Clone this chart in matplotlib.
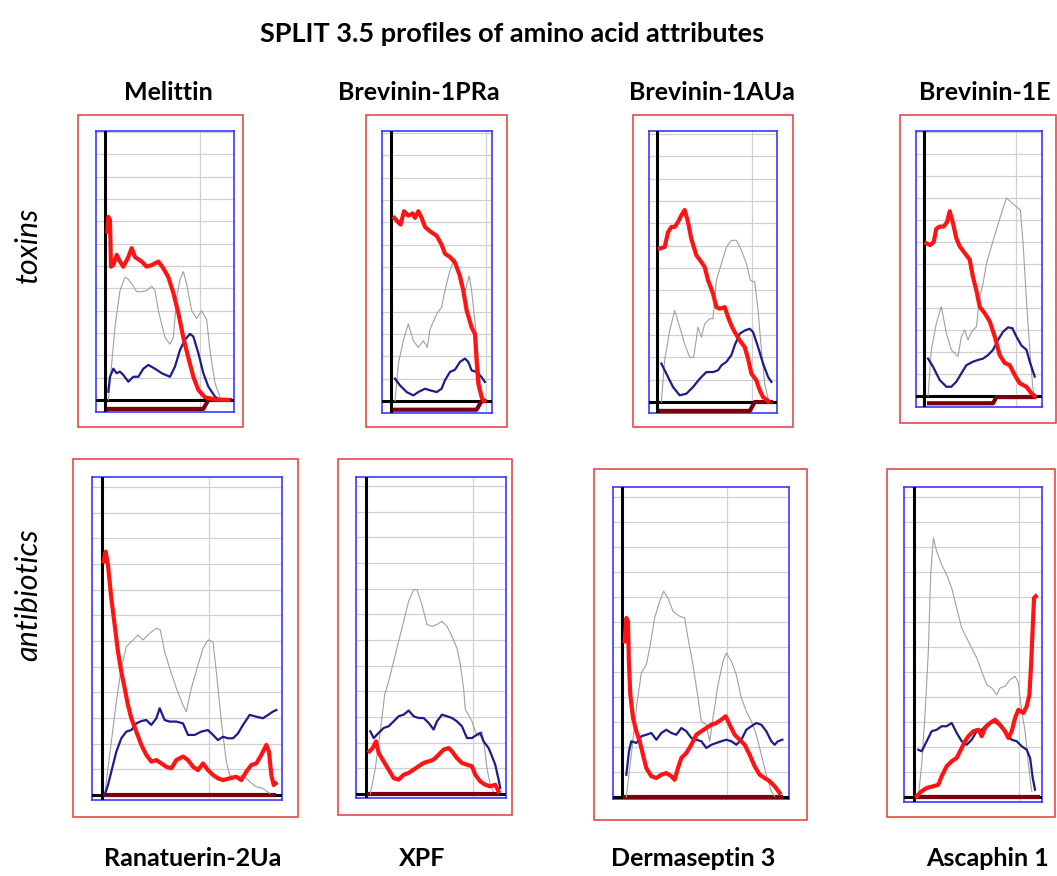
import matplotlib
matplotlib.use("Agg")
import matplotlib.pyplot as plt
from matplotlib.patches import Rectangle

# === DATA (x in residue units, y in grid units; 0 = black baseline) ===
# --- Melittin ---
MEL_RED_X = [0.49, 0.70, 1.05, 1.26, 1.75, 2.46, 3.16, 3.86, 4.91, 5.61, 6.32, 7.72, 8.77, 9.82, 11.23, 12.28,
             13.33, 14.39, 15.44, 16.49, 17.54, 18.60, 19.65, 21.05, 23.16, 25.96]
MEL_RED_Y = [7.54, 8.2, 8.06, 5.97, 6.04, 6.5, 6.2, 5.97, 6.4, 6.8, 6.4, 6.2, 5.97, 6.04, 6.2, 5.9,
             5.5, 4.8, 3.9, 2.8, 1.9, 1.04, 0.45, 0.12, 0.03, 0.0]
MEL_GREY_X = [0.70, 1.40, 2.11, 3.16, 4.21, 4.91, 5.96, 6.67, 7.72, 8.77, 9.82, 10.53, 11.23, 11.93, 12.63, 13.68,
              14.39, 15.09, 15.79, 16.49, 17.19, 18.25, 19.30, 20.35, 21.40, 22.11, 23.16, 24.21]
MEL_GREY_Y = [0, 1.6, 3.3, 4.9, 5.5, 5.4, 5.1, 4.85, 4.85, 4.9, 5.1, 4.9, 4.0, 3.4, 2.8, 2.5,
              2.8, 4.6, 5.4, 5.75, 5.2, 4.0, 3.65, 4.0, 3.6, 2.2, 0.75, 0.15]
MEL_NAVY_X = [0.70, 1.05, 1.75, 2.46, 3.16, 3.86, 4.91, 5.96, 7.02, 8.07, 9.12, 10.53, 11.93, 13.68, 14.74, 15.79,
              16.84, 17.89, 18.60, 19.65, 20.70, 21.75, 23.16, 23.86]
MEL_NAVY_Y = [0.37, 1.04, 1.4, 1.2, 1.27, 1.12, 0.82, 1.04, 1.04, 1.4, 1.57, 1.4, 1.2, 1.04, 1.5, 2.24,
              2.7, 2.96, 2.84, 2.1, 1.2, 0.6, 0.15, 0.06]
MEL_BAR_X = [0.3, 20.7, 21.75, 26.7]
MEL_BAR_Y = [-0.4, -0.4, 0, 0]

# --- Brevinin-1PRa ---
PRA_RED_X = [0.70, 1.55, 2.04, 2.75, 3.66, 4.58, 5.07, 5.77, 6.48, 7.18, 8.24, 9.65, 10.70, 11.41, 12.46, 13.52,
             14.58, 15.28, 15.99, 17.04, 17.75, 18.10, 18.45, 19.15, 19.65]
PRA_RED_Y = [8.2, 8.0, 7.9, 8.5, 8.3, 8.4, 8.2, 8.5, 8.2, 7.8, 7.6, 7.4, 7.0, 6.6, 6.45, 6.2,
             5.6, 4.95, 4.06, 3.3, 3.0, 1.8, 0.78, 0.18, 0.0]
PRA_GREY_X = [0.85, 1.55, 2.61, 3.66, 4.72, 5.77, 6.83, 7.68, 8.24, 9.65, 10.70, 11.41, 12.46, 13.52, 14.58, 15.63,
              16.55, 17.04, 18.10, 18.80, 19.37]
PRA_GREY_Y = [0, 1.67, 2.7, 3.46, 2.7, 2.4, 2.7, 2.4, 3.2, 3.9, 4.2, 4.95, 5.85, 6.4, 5.25, 4.9,
              5.6, 4.95, 2.87, 1.07, 0.18]
PRA_NAVY_X = [0.85, 1.90, 3.31, 4.72, 5.77, 7.18, 8.24, 9.65, 10.70, 11.41, 12.46, 13.52, 14.58, 15.63, 16.34, 17.04,
              18.10, 19.15, 19.86]
PRA_NAVY_Y = [1.0, 0.7, 0.4, 0.25, 0.4, 0.55, 0.48, 0.4, 0.55, 0.93, 1.3, 1.4, 1.75, 1.9, 1.75, 1.37,
              1.3, 1.07, 0.85]
PRA_BAR_X = [0.35, 18.1, 19.15, 20.2]
PRA_BAR_Y = [-0.39, -0.39, 0, 0]

# --- Brevinin-1AUa ---
AUA_RED_X = [0.56, 1.61, 2.31, 3.01, 3.71, 4.41, 5.10, 5.80, 6.50, 7.20, 8.25, 9.30, 10.0, 10.70, 11.75, 12.45,
             13.15, 14.20, 14.90, 15.59, 16.29, 17.34, 18.39, 19.09, 19.79, 20.84, 21.54, 22.24, 23.29]
AUA_RED_Y = [6.87, 6.94, 7.6, 7.84, 7.84, 8.06, 8.36, 8.6, 8.06, 7.3, 6.57, 6.27, 6.04, 5.45, 4.85, 4.25,
             4.18, 4.25, 3.8, 3.43, 3.13, 2.76, 2.46, 1.94, 1.27, 0.97, 0.52, 0.22, 0.04]
AUA_GREY_X = [0.91, 1.61, 2.66, 3.71, 4.76, 5.80, 6.85, 7.69, 8.60, 9.30, 10.0, 11.05, 11.75, 12.45, 13.50, 14.55,
              15.59, 16.64, 17.69, 18.74, 19.58, 20.49, 21.19, 21.89, 22.59, 23.29]
AUA_GREY_Y = [0, 1.87, 3.2, 4.1, 3.36, 2.6, 2.0, 2.0, 3.36, 2.9, 3.5, 3.73, 3.73, 5.45, 6.2, 6.94,
              7.24, 7.24, 6.8, 6.2, 5.45, 5.37, 4.1, 2.3, 0.82, 0.15]
AUA_NAVY_X = [0.91, 1.96, 3.36, 4.76, 6.15, 7.55, 8.95, 10.35, 11.75, 12.80, 13.50, 14.55, 15.59, 16.29, 17.34, 18.39,
              19.44, 20.14, 21.19, 22.24, 23.29, 23.99]
AUA_NAVY_Y = [1.72, 1.27, 0.67, 0.3, 0.37, 0.67, 1.04, 1.34, 1.34, 1.42, 1.64, 1.8, 2.1, 2.54, 3.06, 3.2,
              3.28, 3.13, 2.46, 1.72, 1.12, 0.9]
AUA_BAR_X = [0.42, 19.44, 20.49, 24.34]
AUA_BAR_Y = [-0.4, -0.4, 0, 0]

# --- Brevinin-1E ---
B1E_RED_X = [0.51, 1.37, 2.09, 2.67, 3.39, 4.26, 4.98, 5.56, 6.28, 7.0, 7.73, 8.81, 9.89, 10.61, 11.34, 12.06,
             13.14, 14.22, 15.31, 16.39, 17.47, 18.56, 19.64, 20.72, 22.17, 23.25, 23.97]
B1E_RED_Y = [6.94, 6.86, 7.0, 7.6, 7.7, 7.7, 7.9, 8.4, 7.85, 7.17, 6.8, 6.5, 6.2, 5.4, 4.8, 4.06,
             3.76, 3.4, 2.7, 1.86, 1.5, 1.4, 0.95, 0.58, 0.42, 0.12, 0.0]
B1E_GREY_X = [0.87, 1.59, 2.67, 3.75, 4.84, 5.92, 7.36, 8.09, 8.81, 9.53, 10.25, 11.34, 12.06, 12.78, 13.50, 14.58,
              15.67, 16.75, 17.83, 18.92, 20.0, 20.87, 21.44, 22.17, 22.89, 23.47, 23.75]
B1E_GREY_Y = [0, 2.1, 3.3, 4.06, 2.85, 2.1, 1.8, 2.7, 3.0, 2.55, 2.9, 3.15, 4.5, 5.1, 6.0, 6.8,
              7.55, 8.3, 9.0, 8.8, 8.6, 8.45, 6.94, 4.36, 2.1, 0.58, 0.05]
B1E_NAVY_X = [0.87, 1.95, 3.39, 4.84, 5.92, 7.0, 8.09, 9.17, 10.61, 11.70, 12.78, 13.86, 14.95, 16.03, 17.11, 18.19,
              19.13, 20.0, 21.08, 22.17, 22.89, 23.97]
B1E_NAVY_Y = [1.7, 1.33, 0.73, 0.42, 0.42, 0.65, 1.03, 1.4, 1.56, 1.64, 1.7, 1.86, 2.1, 2.55, 2.92, 3.12,
              3.08, 2.7, 2.3, 2.1, 1.56, 0.88]
B1E_BAR_X = [0.65, 14.95, 15.67, 24.33]
B1E_BAR_Y = [-0.33, -0.33, -0.05, -0.05]

# --- Ranatuerin-2Ua ---
RAN_RED_X = [0.31, 0.69, 1.12, 1.74, 2.37, 2.99, 3.61, 4.24, 4.86, 5.48, 6.42, 7.35, 8.29, 9.22, 10.16, 11.09,
             12.02, 12.96, 13.89, 15.14, 16.07, 17.01, 17.94, 18.88, 19.81, 20.75, 21.68, 22.62, 23.86, 25.11,
             26.04, 26.98, 27.91, 28.85, 29.78, 30.72, 31.21, 31.65, 32.09, 32.46]
RAN_RED_Y = [9.1, 9.48, 8.96, 7.66, 6.62, 5.58, 4.8, 4.16, 3.5, 2.99, 2.47, 1.95, 1.56, 1.3, 1.36, 1.23,
             1.1, 1.04, 1.36, 1.5, 1.36, 1.1, 0.97, 1.23, 0.97, 0.78, 0.65, 0.58, 0.65, 0.71,
             0.58, 0.91, 1.17, 1.23, 1.56, 1.95, 1.69, 0.78, 0.39, 0.45]
RAN_GREY_X = [0.50, 1.43, 2.68, 3.61, 4.55, 5.79, 6.73, 7.66, 8.91, 10.16, 10.90, 11.71, 12.65, 13.89, 15.14, 15.76,
              16.70, 17.94, 18.88, 19.81, 20.75, 21.37, 22.31, 23.24, 23.86, 25.11, 26.36, 27.60, 28.85, 30.09, 31.34]
RAN_GREY_Y = [0, 1.56, 3.64, 4.94, 5.78, 6.04, 6.23, 6.04, 6.3, 6.5, 6.43, 5.58, 4.94, 4.16, 3.5, 3.25,
              4.16, 5.06, 5.71, 6.04, 5.97, 4.8, 2.86, 1.3, 0.78, 0.65, 0.78, 0.52, 0.32, 0.26, 0.06]
RAN_NAVY_X = [0.50, 1.12, 1.74, 2.68, 3.61, 4.55, 5.48, 6.42, 7.35, 8.29, 9.22, 10.16, 10.78, 11.71, 12.65, 13.89,
              15.14, 16.07, 17.32, 18.57, 19.81, 20.75, 21.68, 22.62, 23.55, 24.49, 25.42, 26.36, 27.60, 28.85,
              30.09, 31.03, 31.96, 32.59]
RAN_NAVY_Y = [0, 0.39, 0.91, 1.69, 2.21, 2.47, 2.53, 2.79, 2.88, 2.92, 2.73, 2.99, 3.38, 2.92, 2.86, 2.86,
              2.79, 2.34, 2.34, 2.47, 2.53, 2.34, 2.14, 2.27, 2.21, 2.21, 2.4, 2.73, 3.12, 3.05,
              2.99, 3.12, 3.25, 3.31]
RAN_BAR_X = [0.19, 32.59]
RAN_BAR_Y = [0, 0]

# --- XPF ---
XPF_RED_X = [0.63, 1.25, 1.88, 2.38, 3.31, 4.25, 5.19, 6.13, 7.06, 8.0, 8.94, 9.88, 10.81, 11.75, 12.69, 13.63,
             14.56, 15.5, 16.13, 17.06, 18.0, 18.94, 19.88, 20.5, 21.44, 22.38, 23.31, 24.25, 24.88]
XPF_RED_Y = [1.66, 1.79, 2.05, 1.6, 1.27, 0.95, 0.62, 0.56, 0.75, 0.82, 0.95, 1.08, 1.21, 1.27, 1.34, 1.53,
             1.73, 1.79, 1.66, 1.4, 1.21, 1.14, 1.08, 0.75, 0.49, 0.36, 0.3, 0.36, 0.1]
XPF_GREY_X = [0.81, 1.75, 2.69, 3.5, 4.25, 5.19, 6.13, 7.06, 8.0, 8.94, 9.56, 10.5, 11.44, 12.38, 13.31, 14.25,
              15.19, 16.13, 17.06, 17.69, 18.31, 18.63, 19.25, 19.88, 20.5, 21.13, 21.75, 22.25, 22.69, 23.31, 23.94]
XPF_GREY_Y = [0, 1.01, 2.44, 3.87, 4.39, 5.17, 5.95, 6.73, 7.51, 7.96, 7.96, 7.38, 6.6, 6.53, 6.6, 6.73,
              6.53, 6.14, 5.69, 5.04, 4.13, 3.29, 3.09, 2.83, 2.44, 2.25, 2.44, 1.79, 1.01, 0.36, 0.1]
XPF_NAVY_X = [0.81, 1.44, 2.38, 3.31, 4.25, 5.19, 6.13, 7.06, 8.0, 8.94, 9.88, 10.81, 11.75, 12.69, 13.31, 14.25,
              15.19, 16.13, 17.06, 18.0, 18.94, 19.88, 20.81, 21.44, 22.06, 23.0, 23.63, 24.25, 24.88, 25.19]
XPF_NAVY_Y = [2.44, 2.18, 2.38, 2.57, 2.64, 2.83, 3.03, 3.09, 3.25, 3.03, 2.96, 2.96, 2.77, 2.51, 2.83, 3.09,
              3.03, 2.96, 2.83, 2.64, 2.18, 2.18, 2.31, 2.38, 2.05, 1.79, 1.47, 1.14, 0.56, 0.23]
XPF_BAR_X = [0.19, 25.19]
XPF_BAR_Y = [0, 0]

# --- Dermaseptin 3 ---
DER_RED_X = [0.51, 0.83, 1.14, 1.33, 1.59, 2.10, 2.73, 3.37, 4.0, 4.63, 5.59, 6.54, 7.49, 8.44, 9.40, 10.03,
             10.67, 11.30, 12.25, 13.21, 14.16, 15.11, 16.06, 17.02, 17.97, 18.92, 19.75, 20.51, 21.46, 22.41,
             23.37, 24.32, 25.27, 26.22, 27.17, 28.13, 29.08, 30.03]
DER_RED_Y = [6.23, 7.16, 7.03, 5.29, 4.09, 3.16, 2.63, 2.23, 1.69, 1.16, 0.83, 0.76, 0.89, 0.96, 0.83, 0.69,
             1.16, 1.56, 1.76, 2.09, 2.49, 2.63, 2.76, 2.89, 2.96, 3.09, 3.23, 2.89, 2.49, 2.29,
             2.09, 1.69, 1.23, 0.89, 0.76, 0.63, 0.43, 0.16]
DER_GREY_X = [0.83, 1.78, 2.73, 3.68, 4.63, 5.27, 6.22, 7.17, 7.94, 8.76, 9.71, 10.98, 11.94, 12.57, 13.52, 14.48,
              15.11, 16.06, 16.70, 17.33, 18.29, 19.24, 19.87, 20.83, 21.78, 22.73, 23.68, 24.63, 25.59, 26.54,
              27.49, 28.44, 29.08]
DER_GREY_Y = [0, 1.69, 3.56, 4.96, 5.29, 5.96, 7.16, 7.83, 8.23, 7.96, 7.43, 7.23, 7.16, 6.36, 5.29, 3.96,
              3.03, 2.89, 2.23, 3.16, 4.49, 5.43, 5.76, 5.43, 4.89, 3.96, 3.43, 3.03, 2.49, 1.69,
              0.89, 0.23, 0.03]
DER_NAVY_X = [0.83, 1.33, 1.78, 2.73, 3.68, 4.63, 5.59, 6.54, 7.49, 8.44, 9.40, 10.35, 11.30, 12.25, 13.21, 14.16,
              15.11, 16.06, 17.02, 17.97, 18.92, 19.87, 20.83, 21.78, 22.73, 23.68, 24.63, 25.59, 26.54, 27.49,
              28.44, 29.08, 29.71, 30.54]
DER_NAVY_Y = [0.89, 1.83, 2.23, 2.16, 2.43, 2.49, 2.56, 2.29, 2.56, 2.69, 2.56, 2.49, 2.76, 2.63, 2.36, 2.29,
              2.23, 1.96, 2.09, 2.16, 2.23, 2.29, 2.23, 2.09, 2.29, 2.69, 2.83, 2.96, 2.89, 2.63,
              2.23, 2.09, 2.23, 2.29]
DER_BAR_X = [0.19, 30.67]
DER_BAR_Y = [0, 0]

# --- Ascaphin 1 ---
ASC_RED_X = [0.51, 1.46, 2.41, 3.67, 4.62, 5.25, 6.20, 7.15, 8.10, 9.05, 9.68, 10.32, 11.27, 12.22, 12.85, 13.48,
             14.43, 15.38, 16.33, 17.28, 17.91, 18.54, 19.18, 19.81, 20.76, 21.39, 21.90, 22.22, 22.47, 22.78, 23.10]
ASC_RED_Y = [0.03, 0.23, 0.36, 0.43, 0.49, 0.83, 1.23, 1.43, 1.56, 1.96, 2.23, 2.43, 2.63, 2.69, 2.43, 2.76,
             2.96, 3.09, 2.89, 2.63, 2.36, 2.63, 3.16, 3.49, 3.36, 3.63, 4.09, 5.29, 6.49, 7.96, 8.03]
ASC_GREY_X = [0.82, 1.46, 2.09, 2.72, 3.16, 3.67, 4.30, 5.25, 6.20, 7.15, 8.10, 9.05, 10.0, 10.95, 11.90, 12.85,
              13.80, 14.75, 15.70, 16.33, 17.28, 18.23, 19.18, 19.81, 20.44, 21.08, 21.71, 22.34]
ASC_GREY_Y = [0, 1.29, 3.29, 5.83, 8.89, 10.36, 9.83, 9.29, 8.89, 8.36, 7.56, 6.76, 6.36, 5.96, 5.56, 5.03,
              4.49, 4.36, 4.09, 4.36, 4.43, 4.69, 4.83, 4.56, 3.43, 2.63, 1.29, 0.23]
ASC_NAVY_X = [0.82, 1.46, 2.41, 3.35, 4.30, 5.25, 6.20, 7.15, 8.10, 9.05, 10.0, 10.95, 11.90, 12.85, 13.80, 14.75,
              15.70, 16.65, 17.59, 18.54, 19.49, 20.44, 21.39, 22.03, 22.53, 22.97]
ASC_NAVY_Y = [1.89, 1.83, 2.23, 2.63, 2.69, 2.83, 2.83, 2.96, 2.56, 2.23, 2.09, 2.29, 2.63, 2.69, 2.89, 3.03,
              2.96, 2.76, 2.49, 2.29, 2.23, 2.03, 1.89, 1.56, 0.76, 0.29]
ASC_BAR_X = [0.19, 23.92]
ASC_BAR_Y = [0, 0]

TOP_NAMES = ["Melittin", "Brevinin-1PRa", "Brevinin-1AUa", "Brevinin-1E"]
BOTTOM_NAMES = ["Ranatuerin-2Ua", "XPF", "Dermaseptin 3", "Ascaphin 1"]
ROW_NAMES = ["toxins", "antibiotics"]

# === LAYOUT (pixels): red frame, blue axes box, origin, px per unit x / y ===
W, H = 1057, 876
PANELS = [
    ((78, 115, 243, 427), (96, 131, 234, 412), (105, 400), 4.75, 22.33,
     MEL_RED_X, MEL_RED_Y, MEL_GREY_X, MEL_GREY_Y, MEL_NAVY_X, MEL_NAVY_Y, MEL_BAR_X, MEL_BAR_Y),
    ((366, 115, 507, 427), (382, 131, 492, 413), (391, 401), 4.73, 22.33,
     PRA_RED_X, PRA_RED_Y, PRA_GREY_X, PRA_GREY_Y, PRA_NAVY_X, PRA_NAVY_Y, PRA_BAR_X, PRA_BAR_Y),
    ((633, 115, 793, 427), (649, 131, 777, 413), (657, 402), 4.77, 22.33,
     AUA_RED_X, AUA_RED_Y, AUA_GREY_X, AUA_GREY_Y, AUA_NAVY_X, AUA_NAVY_Y, AUA_BAR_X, AUA_BAR_Y),
    ((900, 115, 1056, 423), (916, 131, 1042, 407), (924, 396), 4.62, 22.0,
     B1E_RED_X, B1E_RED_Y, B1E_GREY_X, B1E_GREY_Y, B1E_NAVY_X, B1E_NAVY_Y, B1E_BAR_X, B1E_BAR_Y),
    ((73, 459, 298, 817), (92, 477, 282, 800), (102, 795), 5.35, 25.67,
     RAN_RED_X, RAN_RED_Y, RAN_GREY_X, RAN_GREY_Y, RAN_NAVY_X, RAN_NAVY_Y, RAN_BAR_X, RAN_BAR_Y),
    ((338, 459, 512, 815), (356, 477, 506, 798), (366, 794), 5.33, 25.67,
     XPF_RED_X, XPF_RED_Y, XPF_GREY_X, XPF_GREY_Y, XPF_NAVY_X, XPF_NAVY_Y, XPF_BAR_X, XPF_BAR_Y),
    ((594, 469, 807, 820), (613, 487, 789, 799), (622, 797), 5.25, 25.0,
     DER_RED_X, DER_RED_Y, DER_GREY_X, DER_GREY_Y, DER_NAVY_X, DER_NAVY_Y, DER_BAR_X, DER_BAR_Y),
    ((887, 469, 1055, 817), (904, 487, 1042, 802), (914, 797), 5.27, 25.0,
     ASC_RED_X, ASC_RED_Y, ASC_GREY_X, ASC_GREY_Y, ASC_NAVY_X, ASC_NAVY_Y, ASC_BAR_X, ASC_BAR_Y),
]

fig = plt.figure(figsize=(W / 100, H / 100), dpi=100)
fig.patch.set_facecolor("white")

for red, blue, org, ppx, ppy, rx, ry, gx, gy, nx, ny, bx, by in PANELS:
    # outer red frame
    fig.add_artist(Rectangle((red[0] / W, 1 - red[3] / H), (red[2] - red[0]) / W, (red[3] - red[1]) / H,
                             transform=fig.transFigure, fill=False, edgecolor="#e23b3b", linewidth=1.1))
    l, t, r, b = blue
    ax = fig.add_axes([l / W, 1 - b / H, (r - l) / W, (b - t) / H])
    ax.set_xlim((l - org[0]) / ppx, (r - org[0]) / ppx)
    ax.set_ylim(-(b - org[1]) / ppy, (org[1] - t) / ppy)
    top = int((org[1] - t) / ppy)
    ax.set_yticks(range(1, top + 1))
    ax.set_xticks([20])
    ax.grid(True, color="#d0d0d0", linewidth=0.9)
    ax.tick_params(length=0, labelbottom=False, labelleft=False)
    for sp in ax.spines.values():
        sp.set_color("#3a3aff")
        sp.set_linewidth(1.2)
    ax.axvline(0, color="black", linewidth=2.2, zorder=3)
    ax.axhline(0, color="black", linewidth=2.2, zorder=3)
    ax.plot(bx, by, color="#7a0010", linewidth=3.0, solid_capstyle="butt", zorder=4)
    ax.plot(gx, gy, color="#a0a0a0", linewidth=0.8, zorder=5)
    ax.plot(nx, ny, color="#1c1c8a", linewidth=1.6, zorder=6)
    ax.plot(rx, ry, color="#ff1414", linewidth=3.0, zorder=7)

# === TEXT ===
fig.text(512 / W, 1 - 34 / H, "SPLIT 3.5 profiles of amino acid attributes",
         ha="center", va="center", fontsize=19.5, fontweight="bold", family="Lato")
for name, cx in zip(TOP_NAMES, [168, 419, 712, 985]):
    fig.text(cx / W, 1 - 92 / H, name, ha="center", va="center",
             fontsize=18, fontweight="bold", family="Lato")
for name, cx in zip(BOTTOM_NAMES, [193, 422, 693, 988]):
    fig.text(cx / W, 1 - 859 / H, name, ha="center", va="center",
             fontsize=18, fontweight="bold", family="Lato")
for name, cy in zip(ROW_NAMES, [245, 595]):
    fig.text(28 / W, 1 - cy / H, name, ha="center", va="center", rotation=90,
             fontsize=22, style="italic", family="Lato")

fig.savefig("out.png", dpi=100, facecolor="white")
